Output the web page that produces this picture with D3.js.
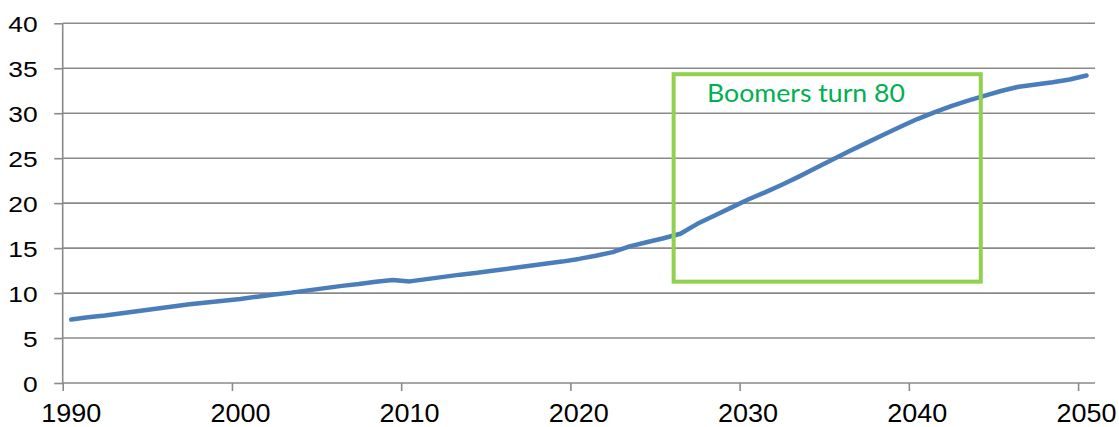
<!DOCTYPE html>
<html>
<head>
<meta charset="utf-8">
<script src="https://cdn.jsdelivr.net/npm/d3@7"></script>
<style>
  html, body { margin: 0; padding: 0; background: #fff; }
  svg { display: block; }
</style>
</head>
<body>
<svg id="chart" width="1119" height="427"></svg>
<script>
// ---- data ----
const years = d3.range(1990, 2051);
const values = [
  7.05, 7.3, 7.5, 7.75, 8.0, 8.25, 8.5, 8.75, 8.95, 9.15,
  9.35, 9.6, 9.85, 10.05, 10.3, 10.55, 10.8, 11.0, 11.25, 11.45,
  11.3, 11.55, 11.8, 12.05, 12.25, 12.5, 12.75, 13.0, 13.25, 13.5,
  13.8, 14.15, 14.55, 15.2, 15.65, 16.1, 16.6, 17.7, 18.6, 19.5,
  20.4, 21.2, 22.05, 22.95, 23.9, 24.85, 25.8, 26.7, 27.6, 28.5,
  29.35, 30.1, 30.8, 31.4, 31.95, 32.5, 32.95, 33.2, 33.45, 33.75,
  34.2
];
const yTicks = [0, 5, 10, 15, 20, 25, 30, 35, 40];
const xTickLabels = [1990, 2000, 2010, 2020, 2030, 2040, 2050];
const annotationText = "Boomers turn 80";
const annotationYears = [2025.6, 2043.75];
const annotationValues = [11.27, 34.34];

// ---- layout ----
(function () {
const svg = d3.select("#chart");
const mLeft = 62.7, mRight = 1095, mTop = 23.3, mBottom = 383;
const labelFont = "'Liberation Sans', Arial, sans-serif";

const x = d3.scaleLinear().domain([1989.5, 2050.5]).range([mLeft, mRight]);
const y = d3.scaleLinear().domain([0, 40]).range([mBottom, mTop]);

const gridColor = "#8a8a8a";

// horizontal gridlines
svg.append("g").selectAll("line").data(yTicks.filter(d => d > 0)).join("line")
  .attr("x1", mLeft).attr("x2", mRight)
  .attr("y1", d => y(d)).attr("y2", d => y(d))
  .attr("stroke", gridColor).attr("stroke-width", 1.6);

// y axis (ticks only; labels drawn separately)
const yAxis = d3.axisLeft(y).tickValues(yTicks).tickSize(8.5).tickFormat("");
const gy = svg.append("g").attr("transform", `translate(${mLeft},0)`).call(yAxis);
gy.select(".domain").attr("stroke", gridColor).attr("stroke-width", 1.6).attr("d", `M0,${mTop}V${mBottom}`);
gy.selectAll(".tick line").attr("stroke", gridColor).attr("stroke-width", 1.6);

svg.append("g").selectAll("text").data(yTicks).join("text")
  .attr("transform", d => `translate(37.7,${y(d) + 8.8}) scale(1.2,1)`)
  .attr("text-anchor", "end")
  .attr("font-family", labelFont)
  .attr("font-size", 22).attr("fill", "#000")
  .text(d => d);

// x axis: ticks at category boundaries, labels at category centres
const tickPos = xTickLabels.map(d => d - 0.5);
const xAxis = d3.axisBottom(x).tickValues(tickPos).tickSize(8).tickFormat("");
const gx = svg.append("g").attr("transform", `translate(0,${mBottom})`).call(xAxis);
gx.select(".domain").attr("stroke", gridColor).attr("stroke-width", 1.6).attr("d", `M${mLeft},0H${mRight}`);
gx.selectAll(".tick line").attr("stroke", gridColor).attr("stroke-width", 1.6);

svg.append("g").selectAll("text").data(xTickLabels).join("text")
  .attr("transform", d => `translate(${x(d)},421.5) scale(1.08,1)`)
  .attr("text-anchor", "middle")
  .attr("font-family", labelFont)
  .attr("font-size", 25).attr("fill", "#000")
  .text(d => d);

// line
const line = d3.line().x((d, i) => x(years[i])).y(d => y(d));
svg.append("path").datum(values)
  .attr("d", line)
  .attr("fill", "none")
  .attr("stroke", "#4a7ebb")
  .attr("stroke-width", 4.5)
  .attr("stroke-linejoin", "round")
  .attr("stroke-linecap", "round");

// annotation box
svg.append("rect")
  .attr("x", x(annotationYears[0])).attr("y", y(annotationValues[1]))
  .attr("width", x(annotationYears[1]) - x(annotationYears[0]))
  .attr("height", y(annotationValues[0]) - y(annotationValues[1]))
  .attr("fill", "none").attr("stroke", "#92d050").attr("stroke-width", 4);

svg.append("text")
  .attr("x", 707).attr("y", 102.3)
  .attr("font-family", "Lato, 'Open Sans', sans-serif")
  .attr("font-size", 25.5).attr("fill", "#00b050")
  .attr("textLength", 198).attr("lengthAdjust", "spacingAndGlyphs")
  .text(annotationText);
})();
</script>
</body>
</html>
